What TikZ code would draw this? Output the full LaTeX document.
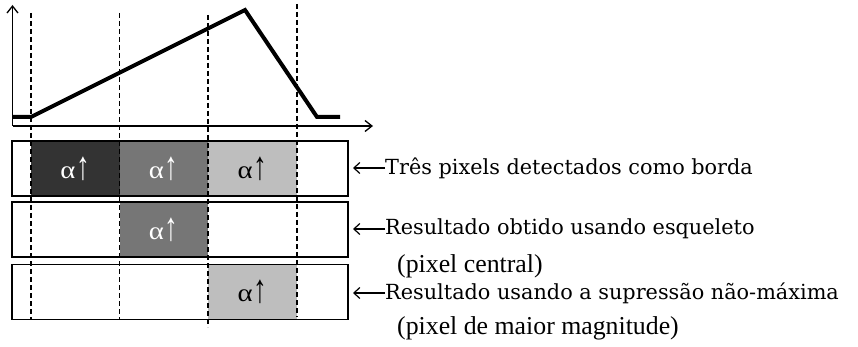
\documentclass[tikz,border=0pt]{standalone}
\usepackage{fontspec}
\setmainfont{Liberation Serif}
\newfontfamily\labfont{DejaVu Serif}
\usetikzlibrary{arrows.meta}
\definecolor{cdark}{HTML}{333333}
\definecolor{cmid}{HTML}{767676}
\definecolor{clight}{HTML}{BEBEBE}
\newcommand{\alup}{\scalebox{1.15}[1]{α}\kern1pt\raisebox{-1pt}{\scalebox{1.1}[1.6]{↑}}}
\tikzset{
  rowbox/.style={draw=black, line width=1.4pt, minimum width=336pt, minimum height=55pt, inner sep=0pt},
  cell/.style={minimum width=88.5pt, minimum height=55pt, inner sep=0pt, font=\fontsize{25}{25}\selectfont},
  guide/.style={line width=1.2pt, dash pattern=on 5pt off 3pt},
  curve/.style={line width=4pt, line join=miter},
  axis/.style={line width=1.3pt, -{Straight Barb[length=7pt, width=11pt, line width=1.3pt]}},
  lab/.style={anchor=west, inner sep=0pt, font=\labfont\fontsize{20.8}{22}\selectfont},
  sub/.style={anchor=west, inner sep=0pt, font=\fontsize{25.8}{26}\selectfont},
  pointer/.style={line width=1.2pt, -{Straight Barb[length=6pt, width=11pt, line width=1.2pt]}}
}
\begin{document}
\begin{tikzpicture}[x=1pt, y=-1pt]
\useasboundingbox (0,0) rectangle (858,347);
% axes
\coordinate (o) at (12.5,126);
\coordinate (ytop) at (12.5,5);
\coordinate (xend) at (373,126);
\draw[axis] (o) -- (ytop);
\draw[axis] (o) -- (xend);
% profile curve
\coordinate (p0) at (12.5,117);
\coordinate (p1) at (31,117);
\coordinate (p2) at (245,10);
\coordinate (p3) at (317,117);
\coordinate (p4) at (340,117);
\draw[curve] (p0) -- (p1) -- (p2) -- (p3) -- (p4);
% cells
\node[cell, fill=cdark, text=white] (c11) at (75.25,168.5) {\alup};
\node[cell, fill=cmid, text=white] (c12) at (163.75,168.5) {\alup};
\node[cell, fill=clight, text=black] (c13) at (252.5,168.5) {\alup};
\node[cell, fill=cmid, text=white] (c22) at (163.75,229.5) {\alup};
\node[cell, fill=clight, text=black] (c33) at (252.5,292) {\alup};
% row boxes
\node[rowbox] (r1) at (180,168.5) {};
\node[rowbox] (r2) at (180,229.5) {};
\node[rowbox] (r3) at (180,292) {};
% dashed guides
\coordinate (g1t) at (31,13);    \coordinate (g1b) at (31,320);
\coordinate (g2t) at (119.5,13); \coordinate (g2b) at (119.5,320);
\coordinate (g3t) at (208,15);   \coordinate (g3b) at (208,327);
\coordinate (g4t) at (297,4);    \coordinate (g4b) at (297,317);
\draw[guide] (g1t) -- (g1b);
\draw[guide] (g2t) -- (g2b);
\draw[guide] (g3t) -- (g3b);
\draw[guide] (g4t) -- (g4b);
% labels
\node[lab] (l1) at (385,168) {Três pixels detectados como borda};
\node[lab] (l2) at (385,229) {Resultado obtido usando esqueleto};
\node[sub] (l2b) at (397,266) {(pixel central)};
\node[lab] (l3) at (385,293) {Resultado usando a supressão não-máxima};
\node[sub] (l3b) at (397,328) {(pixel de maior magnitude)};
\coordinate (a1) at (353,168);
\coordinate (a2) at (353,229);
\coordinate (a3) at (353,293);
\draw[pointer] (l1.west) -- (a1);
\draw[pointer] (l2.west) -- (a2);
\draw[pointer] (l3.west) -- (a3);
\end{tikzpicture}
\end{document}
